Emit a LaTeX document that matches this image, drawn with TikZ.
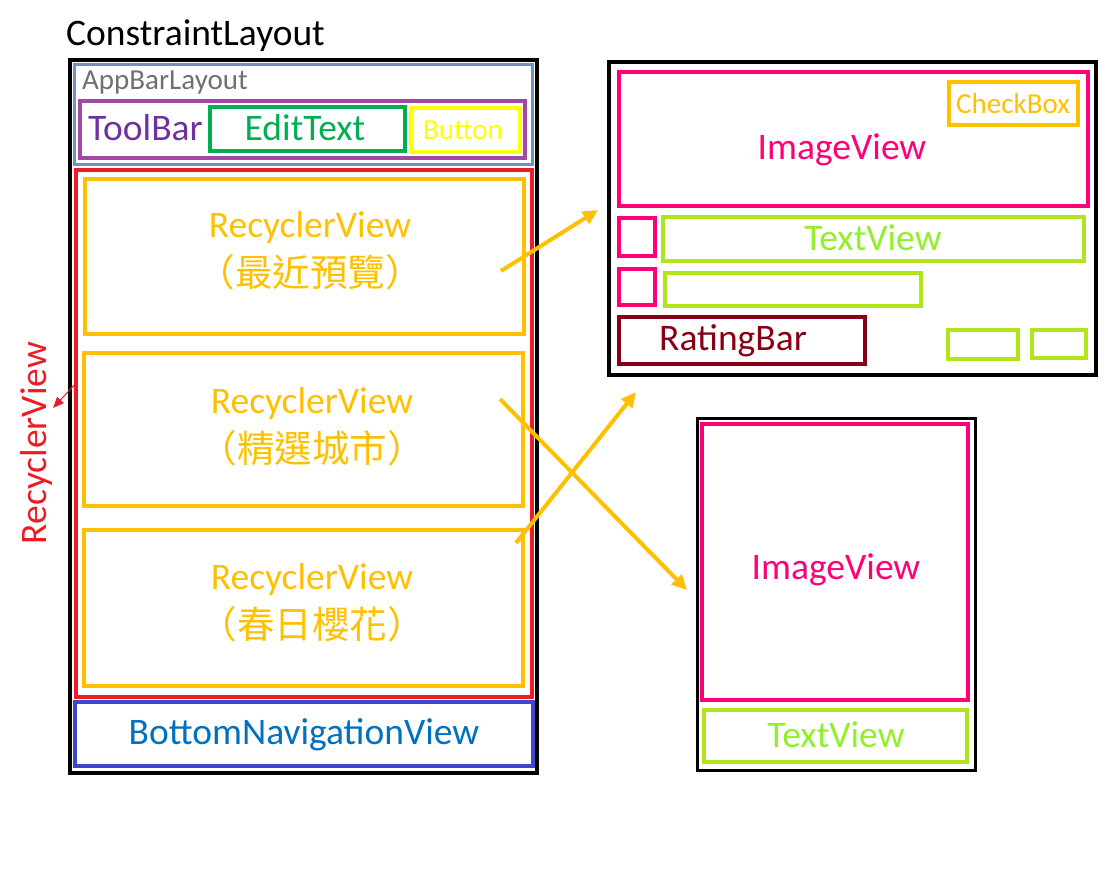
\documentclass[tikz,border=0pt]{standalone}
\usepackage{fontspec}
\setmainfont{Carlito}
\newfontfamily\cjk{Noto Sans CJK TC}
\usetikzlibrary{fit,arrows.meta}

\definecolor{amber}{HTML}{FFC000}
\definecolor{appblue}{RGB}{112,146,192}
\definecolor{appgray}{RGB}{112,112,112}
\definecolor{tbbox}{RGB}{163,73,164}
\definecolor{tbtext}{RGB}{112,48,160}
\definecolor{edgreen}{RGB}{0,176,80}
\definecolor{btyellow}{RGB}{255,255,0}
\definecolor{rvred}{RGB}{237,28,36}
\definecolor{navbox}{RGB}{63,72,204}
\definecolor{navtext}{RGB}{0,112,192}
\definecolor{ivpink}{RGB}{255,0,120}
\definecolor{limebox}{RGB}{176,228,27}
\definecolor{limetext}{RGB}{146,240,43}
\definecolor{rbred}{RGB}{136,0,21}

\tikzset{
  x=1pt, y=-1pt,
  wbox/.style={draw, inner sep=0pt, line width=4pt},
  big/.style={font=\fontsize{37.5}{41}\selectfont, inner sep=0pt},
  small/.style={font=\fontsize{29}{33}\selectfont, inner sep=0pt},
  rvtext/.style={font=\fontsize{37.5}{49}\selectfont, text=amber, align=center, inner sep=0pt},
  link/.style={draw=amber, line width=4pt, -{Triangle[length=15pt,width=14pt]}},
}

\begin{document}
\begin{tikzpicture}
\useasboundingbox (0,0) rectangle (1118,869);

% ---------- main screen ----------
\node[big, anchor=west] (title) at (66,36) {ConstraintLayout};
\node[wbox, line width=4.5pt, fit={(70,60) (537,773)}] (screen) {};

\node[wbox, draw=appblue, line width=3pt, fit={(74,65) (532,165)}] (appbar) {};
\node[small, text=appgray, anchor=west] (appbarT) at (82,83) {AppBarLayout};

\node[wbox, draw=tbbox, line width=3.5pt, fit={(80,101) (525,158)}] (toolbar) {};
\node[big, text=tbtext, anchor=west] (toolbarT) at (88,128) {ToolBar};

\node[wbox, draw=edgreen, fit={(210,107) (405,151)}] (edit) {};
\node[big, text=edgreen] (editT) at (305,128) {EditText};

\node[wbox, draw=btyellow, fit={(411,108) (520,152)}] (button) {};
\node[small, text=btyellow] (buttonT) at (463,130) {Button};

\node[wbox, draw=rvred, fit={(76,170) (532,697)}] (outerrv) {};

\node[wbox, draw=amber, fit={(85,179) (524,334)}] (rv1) {};
\node[rvtext] (rv1T) at (310,251) {RecyclerView\\{\cjk （最近預覽）}};

\node[wbox, draw=amber, fit={(84,353) (523,506)}] (rv2) {};
\node[rvtext] (rv2T) at (312,427) {RecyclerView\\{\cjk （精選城市）}};

\node[wbox, draw=amber, fit={(84,530) (523,686)}] (rv3) {};
\node[rvtext] (rv3T) at (312,603) {RecyclerView\\{\cjk （春日櫻花）}};

\node[wbox, draw=navbox, fit={(75,702) (533,766)}] (nav) {};
\node[big, text=navtext] (navT) at (304,735) {BottomNavigationView};

\node[big, text=rvred, rotate=90] (rvside) at (37,443) {RecyclerView};
\coordinate (sideFrom) at (78,381);
\coordinate (sideTo) at (53,408);
\draw[draw=rvred, line width=1pt, -{Triangle[length=11pt,width=9pt]}] (sideFrom) -- (sideTo);

% ---------- wide item ----------
\node[wbox, line width=4.5pt, fit={(609,62) (1096,375)}] (item1) {};
\node[wbox, draw=ivpink, fit={(619,72) (1088,206)}] (img1) {};
\node[big, text=ivpink] (img1T) at (842,150) {ImageView};
\node[wbox, draw=amber, fit={(949,82) (1078,125)}] (check) {};
\node[small, text=amber] (checkT) at (1013,104) {CheckBox};

\node[wbox, draw=ivpink, fit={(619,218) (655,256)}] (icon1) {};
\node[wbox, draw=ivpink, fit={(619,269) (655,305)}] (icon2) {};
\node[wbox, draw=limebox, fit={(663,217) (1084,261)}] (tv1) {};
\node[big, text=limetext] (tv1T) at (873,238) {TextView};
\node[wbox, draw=limebox, fit={(665,273) (921,306)}] (tv2) {};

\node[wbox, draw=rbred, fit={(619,317) (865,364)}] (rating) {};
\node[big, text=rbred] (ratingT) at (733,341) {RatingBar};
\node[wbox, draw=limebox, fit={(948,330) (1018,359)}] (tv3) {};
\node[wbox, draw=limebox, fit={(1032,330) (1086,358)}] (tv4) {};

% ---------- tall item ----------
\node[wbox, line width=3pt, fit={(697,418) (975,770)}] (item2) {};
\node[wbox, draw=ivpink, line width=3.5pt, fit={(702,424) (968,700)}] (img2) {};
\node[big, text=ivpink] (img2T) at (836,570) {ImageView};
\node[wbox, draw=limebox, line width=3.5pt, fit={(704,710) (967,762)}] (tv5) {};
\node[big, text=limetext] (tv5T) at (836,735) {TextView};

% ---------- links from lists to items ----------
\coordinate (a1) at (501,271);
\coordinate (b1) at (598,210);
\coordinate (a2) at (500,399);
\coordinate (b2) at (687,590);
\coordinate (a3) at (516,543);
\coordinate (b3) at (636,392);
\draw[link] (a1) -- (b1);
\draw[link] (a2) -- (b2);
\draw[link] (a3) -- (b3);
\end{tikzpicture}
\end{document}
